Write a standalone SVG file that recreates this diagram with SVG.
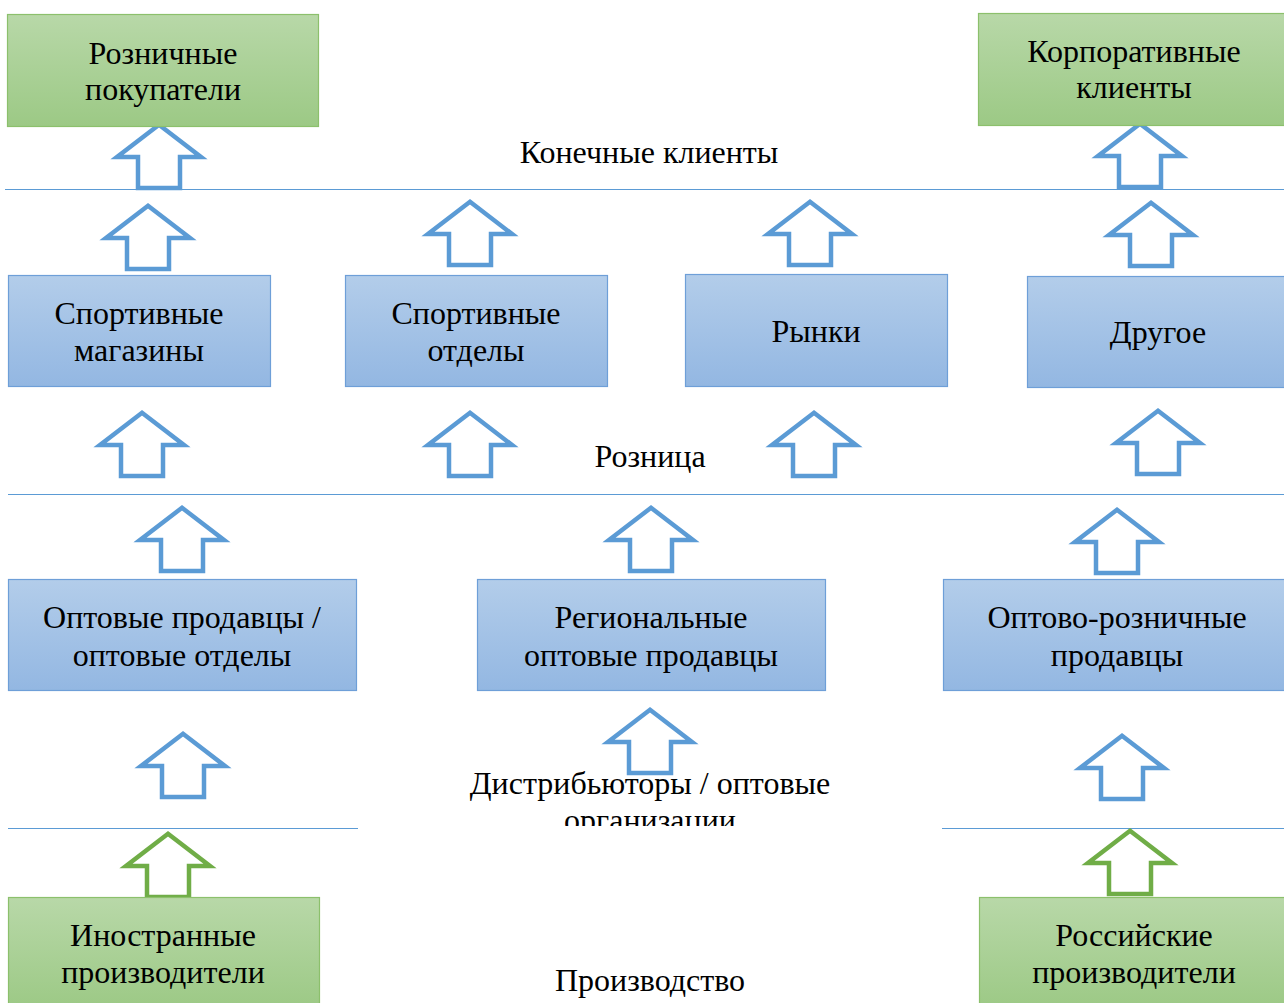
<svg xmlns="http://www.w3.org/2000/svg" xmlns:xlink="http://www.w3.org/1999/xlink" width="1284" height="1003" viewBox="0 0 1284 1003">
<style>
  .t { font-family: "Liberation Serif", "Times New Roman", serif; font-size: 32px; fill: #000; text-anchor: middle; }
  .gbox { fill: url(#gGreen); stroke: #8cc06c; stroke-width: 1.2; }
  .bbox { fill: url(#gBlue); stroke: #6e9fd8; stroke-width: 1.2; }
  .sep { stroke: #5b9bd5; stroke-width: 1; fill: none; }
  .ab { fill: #fff; stroke: #5b9bd5; stroke-width: 4.5; stroke-linejoin: miter; stroke-miterlimit: 10; }
  .ag { fill: #fff; stroke: #70ad47; stroke-width: 4.5; stroke-linejoin: miter; stroke-miterlimit: 10; }
</style>
<defs>
  <linearGradient id="gGreen" x1="0" y1="0" x2="0" y2="1">
    <stop offset="0" stop-color="#b8d8a8"/>
    <stop offset="1" stop-color="#9cc985"/>
  </linearGradient>
  <linearGradient id="gBlue" x1="0" y1="0" x2="0" y2="1">
    <stop offset="0" stop-color="#b3cdea"/>
    <stop offset="1" stop-color="#93b7e2"/>
  </linearGradient>
  <path id="arr" d="M0,2.8 L42,35 L21,35 L21,66 L-21,66 L-21,35 L-42,35 Z"/>
  <clipPath id="clipDist"><rect x="0" y="0" width="1284" height="826"/></clipPath>
</defs>
<rect width="1284" height="1003" fill="#fff"/>

<g id="separators">
  <line class="sep" x1="5" y1="189.5" x2="1284" y2="189.5"/>
  <line class="sep" x1="8" y1="494.5" x2="1284" y2="494.5"/>
  <line class="sep" x1="8" y1="828.5" x2="358" y2="828.5"/>
  <line class="sep" x1="942" y1="828.5" x2="1284" y2="828.5"/>
</g>

<g id="level-labels">
  <text class="t" x="649" y="163">Конечные клиенты</text>
  <text class="t" x="650" y="467">Розница</text>
  <g clip-path="url(#clipDist)">
    <text class="t" x="650" y="794">Дистрибьюторы / оптовые</text>
    <text class="t" x="650" y="831">организации</text>
  </g>
  <text class="t" x="650" y="991">Производство</text>
</g>

<g id="connectors">
  <use xlink:href="#arr" class="ab" transform="translate(159,122)"/>
  <use xlink:href="#arr" class="ab" transform="translate(1140,121)"/>
  <use xlink:href="#arr" class="ab" transform="translate(148,203)"/>
  <use xlink:href="#arr" class="ab" transform="translate(470,199)"/>
  <use xlink:href="#arr" class="ab" transform="translate(810,199)"/>
  <use xlink:href="#arr" class="ab" transform="translate(1151,200)"/>
  <use xlink:href="#arr" class="ab" transform="translate(142,410)"/>
  <use xlink:href="#arr" class="ab" transform="translate(470,410)"/>
  <use xlink:href="#arr" class="ab" transform="translate(814,410)"/>
  <use xlink:href="#arr" class="ab" transform="translate(1158,408)"/>
  <use xlink:href="#arr" class="ab" transform="translate(182,505)"/>
  <use xlink:href="#arr" class="ab" transform="translate(651,505)"/>
  <use xlink:href="#arr" class="ab" transform="translate(1117,507)"/>
  <use xlink:href="#arr" class="ab" transform="translate(183,731)"/>
  <use xlink:href="#arr" class="ab" transform="translate(650,707)"/>
  <use xlink:href="#arr" class="ab" transform="translate(1122,733)"/>
  <use xlink:href="#arr" class="ag" transform="translate(168,831)"/>
  <use xlink:href="#arr" class="ag" transform="translate(1130,828)"/>
</g>

<g id="node-retail-buyers">
  <rect class="gbox" x="7.5" y="14.5" width="311" height="112"/>
  <text class="t" x="163" y="64">Розничные</text>
  <text class="t" x="163" y="100">покупатели</text>
</g>
<g id="node-corporate-clients">
  <rect class="gbox" x="978.5" y="13.5" width="310" height="112"/>
  <text class="t" x="1134" y="62">Корпоративные</text>
  <text class="t" x="1134" y="98">клиенты</text>
</g>
<g id="node-sport-shops">
  <rect class="bbox" x="8.5" y="275.5" width="262" height="111"/>
  <text class="t" x="139" y="324">Спортивные</text>
  <text class="t" x="139" y="361">магазины</text>
</g>
<g id="node-sport-departments">
  <rect class="bbox" x="345.5" y="275.5" width="262" height="111"/>
  <text class="t" x="476" y="324">Спортивные</text>
  <text class="t" x="476" y="361">отделы</text>
</g>
<g id="node-markets">
  <rect class="bbox" x="685.5" y="274.5" width="262" height="112"/>
  <text class="t" x="816" y="342">Рынки</text>
</g>
<g id="node-other">
  <rect class="bbox" x="1027.5" y="276.5" width="262" height="111"/>
  <text class="t" x="1158" y="343">Другое</text>
</g>
<g id="node-wholesalers">
  <rect class="bbox" x="8.5" y="579.5" width="348" height="111"/>
  <text class="t" x="182" y="628">Оптовые продавцы /</text>
  <text class="t" x="182" y="666">оптовые отделы</text>
</g>
<g id="node-regional-wholesalers">
  <rect class="bbox" x="477.5" y="579.5" width="348" height="111"/>
  <text class="t" x="651" y="628">Региональные</text>
  <text class="t" x="651" y="666">оптовые продавцы</text>
</g>
<g id="node-wholesale-retail">
  <rect class="bbox" x="943.5" y="579.5" width="345" height="111"/>
  <text class="t" x="1117" y="628">Оптово-розничные</text>
  <text class="t" x="1117" y="666">продавцы</text>
</g>
<g id="node-foreign-producers">
  <rect class="gbox" x="8.5" y="897.5" width="311" height="112"/>
  <text class="t" x="163" y="946">Иностранные</text>
  <text class="t" x="163" y="983">производители</text>
</g>
<g id="node-russian-producers">
  <rect class="gbox" x="979.5" y="897.5" width="310" height="112"/>
  <text class="t" x="1134" y="946">Российские</text>
  <text class="t" x="1134" y="983">производители</text>
</g>
</svg>
